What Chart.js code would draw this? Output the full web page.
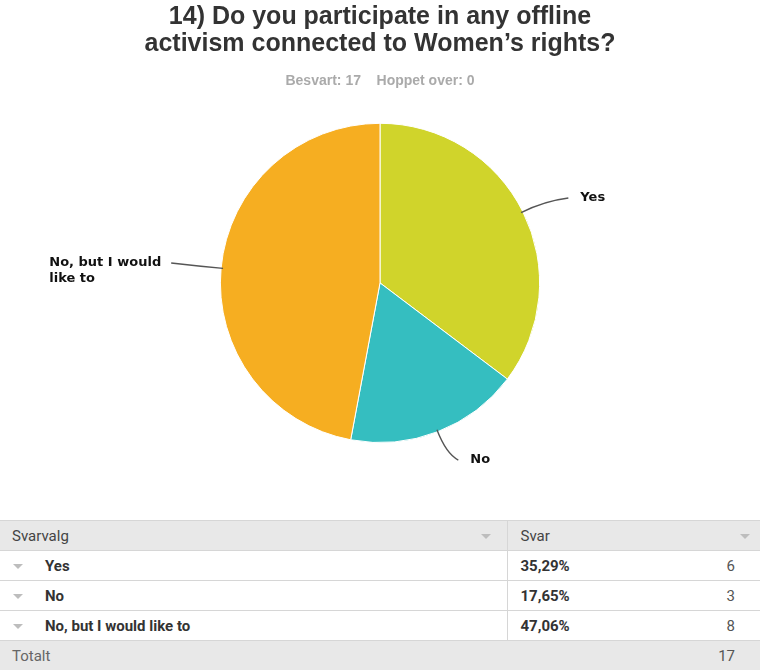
<!DOCTYPE html>
<html>
<head>
<meta charset="utf-8">
<script src="https://cdn.jsdelivr.net/npm/chart.js@4.4.1/dist/chart.umd.min.js"></script>
<style>
  html, body { margin: 0; padding: 0; background: #fff; }
  body { width: 760px; height: 670px; position: relative; overflow: hidden; }
  #chartBox { position: absolute; left: 0; top: 0; width: 760px; height: 520px; }
  table.answers {
    position: absolute; left: 0; top: 520px; width: 760px;
    border-collapse: collapse; table-layout: fixed;
    font-family: "Liberation Sans Narrow", "Arial Narrow", "Roboto", sans-serif;
    font-size: 15px; color: #333;
  }
  table.answers td { box-sizing: border-box; height: 30px; padding: 0; border-bottom: 1px solid #d6d6d6; position: relative; }
  table.answers tr:first-child td { border-top: 1px solid #d6d6d6; }
  table.answers td.c1 { width: 507px; border-right: 1px solid #d6d6d6; }
  tr.head td, tr.total td { background: #e8e8e8; }
  tr.head td { color: #444; }
  tr.total td { color: #666; }
  tr.total td.c1 { border-right: none; }
  tr.row td { font-weight: bold; color: #333; }
  .pad { padding-left: 12px !important; }
  .lbl { padding-left: 45px !important; }
  .pct { padding-left: 13px !important; }
  .num { position: absolute; right: 25px; top: 6px; font-weight: normal; color: #555; }
  .tri {
    position: absolute; width: 0; height: 0;
    border-left: 5px solid transparent; border-right: 5px solid transparent;
    border-top: 5px solid #bdbdbd;
  }
</style>
</head>
<body>
<div id="chartBox"><canvas id="pieChart"></canvas></div>
<table class="answers" id="answers"></table>
<script>
// survey question 14 - answer options and counts
const titleLines = ['14) Do you participate in any offline', 'activism connected to Women\u2019s rights?'];
const subtitleText = 'Besvart: 17    Hoppet over: 0';
const categories = ['Yes', 'No', 'No, but I would like to'];
const counts = [6, 3, 8];
const sliceColors = ['#d0d42b', '#35bec0', '#f6ae21'];
const answered = 17;

const total = counts.reduce((a, b) => a + b, 0);
const pctText = counts.map(c => (c / answered * 100).toFixed(2).replace('.', ',') + '%');

// word wrap for the outside labels
function wrapText(ctx, text, maxWidth) {
    const words = text.split(' ');
    const lines = [];
    let line = '';
    words.forEach(w => {
        const test = line ? line + ' ' + w : w;
        if (ctx.measureText(test).width > maxWidth && line) {
            lines.push(line);
            line = w;
        } else {
            line = test;
        }
    });
    if (line) lines.push(line);
    return lines;
}

// labels outside the pie with curved leader lines
const outsideLabels = {
    id: 'outsideLabels',
    afterDatasetsDraw(chart) {
        const ctx = chart.ctx;
        const meta = chart.getDatasetMeta(0);
        ctx.save();
        ctx.font = 'bold 13px "DejaVu Sans", sans-serif';
        ctx.textBaseline = 'middle';
        meta.data.forEach((arc, i) => {
            const p = arc.getProps(['x', 'y', 'startAngle', 'endAngle', 'outerRadius'], true);
            const mid = (p.startAngle + p.endAngle) / 2;
            const dx = Math.cos(mid), dy = Math.sin(mid);
            const r = p.outerRadius;
            const steep = Math.abs(dy) > 0.7;
            const x0 = p.x + dx * (r - 2), y0 = p.y + dy * (r - 2);
            const x1 = p.x + dx * (r + 24), y1 = p.y + dy * (r + 24);
            const right = dx >= 0;
            const x2 = x1 + (right ? (steep ? 12 : 24) : -26);
            const y2 = y1 + (steep ? 6 : (dy < 0 ? -3 : -2));
            ctx.strokeStyle = '#555';
            ctx.lineWidth = 1.4;
            ctx.beginPath();
            ctx.moveTo(x0, y0);
            ctx.quadraticCurveTo(x1, y1, x2, y2);
            ctx.stroke();

            const lines = wrapText(ctx, categories[i], 120);
            const w = Math.max(...lines.map(l => ctx.measureText(l).width));
            const tx = right ? x2 + 12 : x2 - 10 - w;
            ctx.fillStyle = '#111';
            ctx.textAlign = 'left';
            lines.forEach((l, k) => ctx.fillText(l, tx, y2 + k * 16));
        });
        ctx.restore();
    }
};

new Chart(document.getElementById('pieChart'), {
    type: 'pie',
    data: {
        labels: categories,
        datasets: [{
            data: counts,
            backgroundColor: sliceColors,
            borderColor: '#ffffff',
            borderWidth: 1
        }]
    },
    options: {
        responsive: true,
        maintainAspectRatio: false,
        animation: false,
        layout: { padding: { top: 0, bottom: 77, left: 0, right: 0 } },
        plugins: {
            legend: { display: false },
            tooltip: { enabled: false },
            title: {
                display: true,
                text: titleLines,
                color: '#333',
                font: { family: '"Liberation Sans", Arial, sans-serif', size: 25, weight: 'bold', lineHeight: 1.08 },
                padding: { top: 4, bottom: 15 }
            },
            subtitle: {
                display: true,
                text: subtitleText,
                color: '#aaa',
                font: { family: '"Liberation Sans", Arial, sans-serif', size: 14, weight: 'bold', lineHeight: 1.2 },
                padding: { top: 0, bottom: 33 }
            }
        }
    },
    plugins: [outsideLabels]
});

// summary table under the chart
const table = document.getElementById('answers');
let html = '<tr class="head"><td class="c1 pad">Svarvalg<span class="tri" style="left:481px;top:13px"></span></td>' +
    '<td class="pct">Svar<span class="tri" style="right:10px;top:13px"></span></td></tr>';
categories.forEach((c, i) => {
    html += '<tr class="row"><td class="c1 lbl"><span class="tri" style="left:13px;top:13px"></span>' + c + '</td>' +
        '<td class="pct">' + pctText[i] + '<span class="num">' + counts[i] + '</span></td></tr>';
});
html += '<tr class="total"><td class="c1 pad">Totalt</td><td><span class="num">' + total + '</span></td></tr>';
table.innerHTML = html;
</script>
</body>
</html>
